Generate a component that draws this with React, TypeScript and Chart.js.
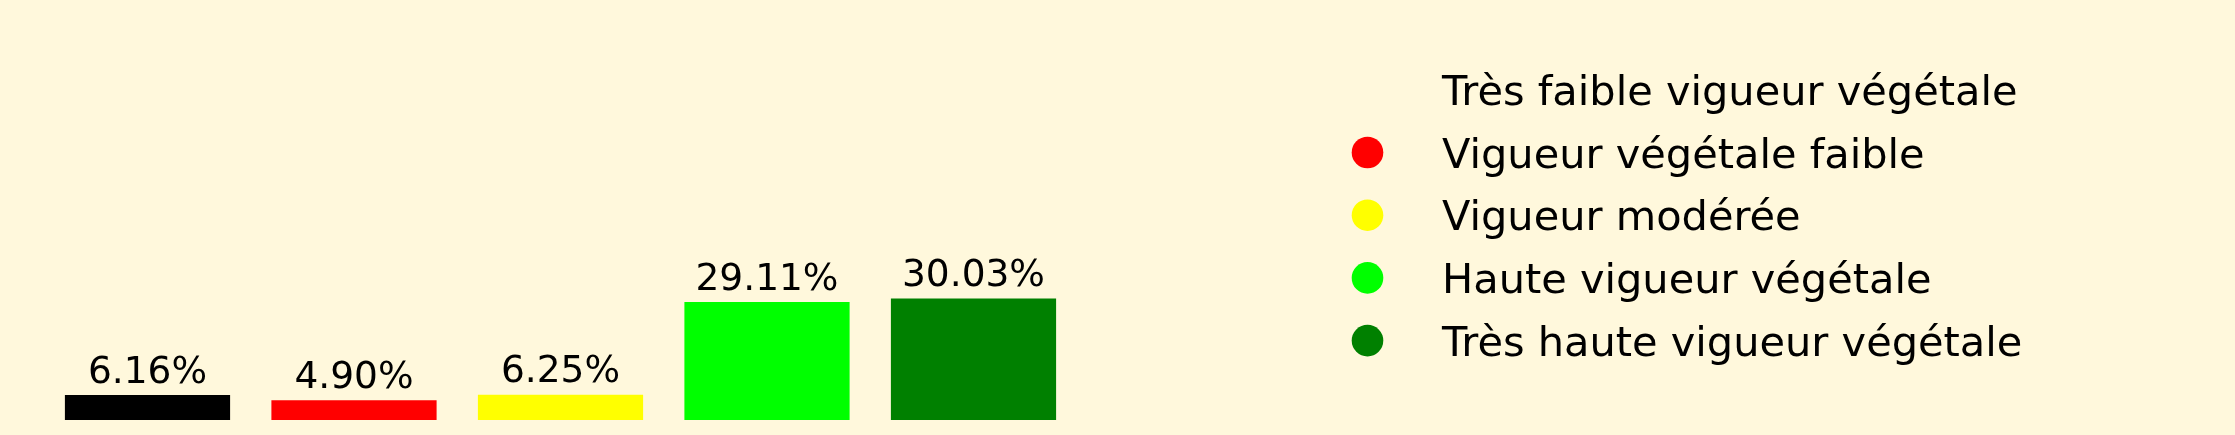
import React, { useEffect, useRef } from "react";
import { Chart, registerables } from "chart.js";

Chart.register(...registerables);

const categories = [
  "Très faible vigueur végétale",
  "Vigueur végétale faible",
  "Vigueur modérée",
  "Haute vigueur végétale",
  "Très haute vigueur végétale",
];
const percentages = [6.16, 4.9, 6.25, 29.11, 30.03];
const barColors = ["#000000", "#ff0000", "#ffff00", "#00ff00", "#008000"];
const legendMarkerColors = ["rgba(0,0,0,0)", "#ff0000", "#ffff00", "#00ff00", "#008000"];
const valueLabels = ["6.16%", "4.90%", "6.25%", "29.11%", "30.03%"];

const BG = "#fff8dc";
const FONT = "'DejaVu Sans', sans-serif";

const bgPlugin = {
  id: "bgFill",
  beforeDraw(chart: any) {
    const { ctx, width, height } = chart;
    ctx.save();
    ctx.fillStyle = BG;
    ctx.fillRect(0, 0, width, height);
    ctx.restore();
  },
};

const labelPlugin = {
  id: "valueLabels",
  afterDatasetsDraw(chart: any) {
    const { ctx } = chart;
    const meta = chart.getDatasetMeta(0);
    ctx.save();
    ctx.font = `37.5px ${FONT}`;
    ctx.fillStyle = "#000";
    ctx.textAlign = "center";
    ctx.textBaseline = "alphabetic";
    meta.data.forEach((bar: any, i: number) => {
      ctx.fillText(valueLabels[i], bar.x, bar.y - 12.5);
    });
    ctx.restore();
  },
};

const legendPlugin = {
  id: "customLegend",
  afterDraw(chart: any) {
    const { ctx } = chart;
    const markerX = 1367.5;
    const textX = 1442;
    const firstY = 89.8;
    const step = 62.7;
    ctx.save();
    ctx.font = `41.5px ${FONT}`;
    ctx.textAlign = "left";
    ctx.textBaseline = "alphabetic";
    categories.forEach((label, i) => {
      const cy = firstY + i * step;
      ctx.beginPath();
      ctx.arc(markerX, cy, 15.8, 0, Math.PI * 2);
      ctx.fillStyle = legendMarkerColors[i];
      ctx.fill();
      ctx.fillStyle = "#000";
      ctx.fillText(label, textX, cy + 15);
    });
    ctx.restore();
  },
};

export default function App() {
  const ref = useRef<HTMLCanvasElement | null>(null);
  useEffect(() => {
    if (!ref.current) return;
    const chart = new Chart(ref.current, {
      type: "bar",
      data: {
        labels: categories,
        datasets: [
          {
            data: percentages,
            backgroundColor: barColors,
            borderWidth: 0,
            barPercentage: 0.8,
            categoryPercentage: 1,
          },
        ],
      },
      options: {
        animation: false,
        responsive: false,
        devicePixelRatio: 1,
        layout: { padding: { left: 44.25, right: 1158.25, top: 15, bottom: 15 } },
        plugins: { legend: { display: false }, tooltip: { enabled: false } },
        scales: {
          x: { display: false, offset: true, grid: { display: false } },
          y: { display: false, min: 0, max: 100 },
        },
      },
      plugins: [bgPlugin, labelPlugin, legendPlugin],
    });
    return () => chart.destroy();
  }, []);
  return (
    <div style={{ position: "fixed", left: 0, top: 0, width: 2235, height: 435, background: BG }}>
      <canvas ref={ref} width={2235} height={435} style={{ display: "block", width: 2235, height: 435 }} />
    </div>
  );
}
